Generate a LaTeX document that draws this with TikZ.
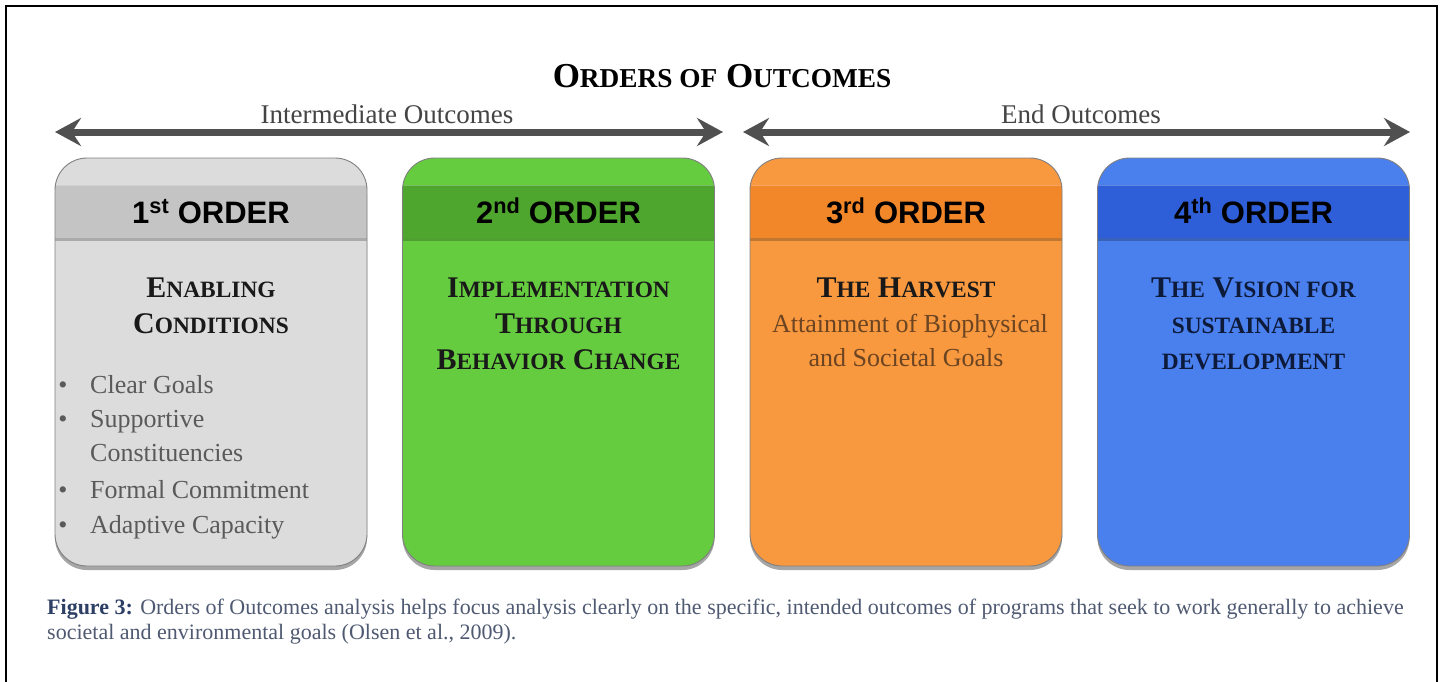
\documentclass[tikz,border=0pt]{standalone}
\usepackage{fontspec}
\setmainfont{Liberation Serif}
\newfontfamily\hdrfont{Liberation Sans}
\usepackage{graphicx}
\usetikzlibrary{arrows.meta,shadows,calc}
\definecolor{arrowgray}{HTML}{505050}
\definecolor{lblgray}{HTML}{444444}
\definecolor{bulgray}{HTML}{5A5A5A}
\definecolor{capcol}{HTML}{4F5A72}
\definecolor{figcol}{HTML}{2E3F66}
\definecolor{gbody}{HTML}{DCDCDC}
\definecolor{ghead}{HTML}{C4C4C4}
\definecolor{grbody}{HTML}{66CC3F}
\definecolor{grhead}{HTML}{4EA62E}
\definecolor{obody}{HTML}{F8983F}
\definecolor{ohead}{HTML}{F2872A}
\definecolor{bbody}{HTML}{4A7FEE}
\definecolor{bhead}{HTML}{2F5FD8}
\definecolor{harvtxt}{HTML}{6B4422}
\definecolor{navytxt}{HTML}{0D1A3A}
\newcommand\smc[1]{\scalebox{0.78}{#1}}
\begin{document}
\begin{tikzpicture}[x=1pt,y=-1pt,
  card/.style={draw=black!50, line width=0.9pt, rounded corners=32pt,
    minimum width=312pt, minimum height=408pt, inner sep=0pt,
    drop shadow={shadow xshift=0pt, shadow yshift=-4pt, opacity=0.35, fill=black}},
  band/.style={path picture={
      \fill[#1, sharp corners] ($(path picture bounding box.north west)+(0,27)$) rectangle ($(path picture bounding box.north east)+(0,80)$);
      \draw[black, opacity=0.22, line width=3pt, sharp corners] ($(path picture bounding box.north west)+(0,81.5)$) -- ($(path picture bounding box.north east)+(0,81.5)$);
      \draw[white, opacity=0.25, line width=1.5pt, sharp corners] ($(path picture bounding box.north west)+(0,27.5)$) -- ($(path picture bounding box.north east)+(0,27.5)$);
    }},
  hdr/.style={anchor=base, font=\hdrfont\bfseries\fontsize{31}{36}\selectfont, text=black, inner sep=0pt},
  ttl/.style={anchor=base, font=\bfseries\fontsize{30}{36}\selectfont, text=black!90, inner sep=0pt},
  bul/.style={anchor=base west, font=\fontsize{26}{30}\selectfont, text=bulgray, inner sep=0pt},
  lbl/.style={anchor=base, font=\fontsize{27}{30}\selectfont, text=lblgray, inner sep=0pt},
  sub/.style={anchor=base, font=\fontsize{26}{30}\selectfont, text=harvtxt, inner sep=0pt},
  bigarrow/.style={line width=7pt, draw=arrowgray,
    {Stealth[length=26pt,width=28pt,inset=9pt]}-{Stealth[length=26pt,width=28pt,inset=9pt]}},
  captxt/.style={anchor=base west, font=\fontsize{22}{25}\selectfont, text=capcol, inner sep=0pt}
]
\useasboundingbox (0,0) rectangle (1443,681);
\fill[white] (0,0) rectangle (1443,681);
% frame
\draw[line width=2.5pt, black] (6,700) -- (6,6) -- (1437,6) -- (1437,700);

% title
\node[anchor=base, font=\bfseries\fontsize{35}{40}\selectfont, inner sep=0pt] (title) at (722,87)
  {O\smc{RDERS OF} O\smc{UTCOMES}};

% arrows
\coordinate (iL) at (55,132);
\coordinate (iR) at (723,132);
\coordinate (eL) at (743,132);
\coordinate (eR) at (1410,132);
\draw[bigarrow] (iL) -- (iR);
\draw[bigarrow] (eL) -- (eR);
\node[lbl] (ilbl) at (387,123) {Intermediate Outcomes};
\node[lbl] (elbl) at (1081,123) {End Outcomes};

% cards
\node[card, fill=gbody, band=ghead] (c1) at (211,362) {};
\node[card, fill=grbody, band=grhead] (c2) at (558.5,362) {};
\node[card, fill=obody, band=ohead] (c3) at (906,362) {};
\node[card, fill=bbody, band=bhead] (c4) at (1253.5,362) {};

% headers
\node[hdr] (h1) at (211,223) {1\textsuperscript{st} ORDER};
\node[hdr] (h2) at (558.5,223) {2\textsuperscript{nd} ORDER};
\node[hdr] (h3) at (906,223) {3\textsuperscript{rd} ORDER};
\node[hdr] (h4) at (1253.5,223) {4\textsuperscript{th} ORDER};

% card 1
\node[ttl] (t1a) at (211,297) {E\smc{NABLING}};
\node[ttl] (t1b) at (211,333) {C\smc{ONDITIONS}};
\foreach \yy/\txt/\nm in {393/Clear Goals/ba, 427/Supportive/bb, 498/Formal Commitment/bd, 533/Adaptive Capacity/be}{
  \node[bul, anchor=base] (\nm d) at (63,\yy) {\textbullet};
  \node[bul] (\nm) at (90,\yy) {\txt};
}
\node[bul] (bc) at (90,461) {Constituencies};

% card 2
\node[ttl] (t2a) at (558.5,297) {I\smc{MPLEMENTATION}};
\node[ttl] (t2b) at (558.5,333) {T\smc{HROUGH}};
\node[ttl] (t2c) at (558.5,369) {B\smc{EHAVIOR} C\smc{HANGE}};

% card 3
\node[ttl] (t3a) at (906,297) {T\smc{HE} H\smc{ARVEST}};
\node[sub] (t3b) at (910,332) {Attainment of Biophysical};
\node[sub] (t3c) at (906,366) {and Societal Goals};

% card 4
\node[ttl, text=navytxt] (t4a) at (1253.5,297) {T\smc{HE} V\smc{ISION FOR}};
\node[ttl, text=navytxt] (t4b) at (1253.5,333) {\smc{SUSTAINABLE}};
\node[ttl, text=navytxt] (t4c) at (1253.5,369) {\smc{DEVELOPMENT}};

% caption
\node[captxt] (cap1) at (47,614) {\textcolor{figcol}{\bfseries Figure 3:} Orders of Outcomes analysis helps focus analysis clearly on the specific, intended outcomes of programs that seek to work generally to achieve};
\node[captxt] (cap2) at (47,639) {societal and environmental goals (Olsen et al., 2009).};
\end{tikzpicture}
\end{document}
